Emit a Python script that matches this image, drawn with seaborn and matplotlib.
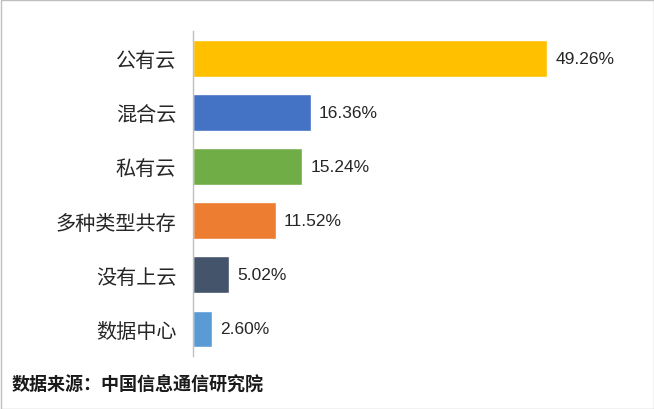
import matplotlib
matplotlib.use("Agg")
import matplotlib.pyplot as plt
import seaborn as sns
import pandas as pd
from matplotlib.patches import Rectangle

categories = ["公有云", "混合云", "私有云", "多种类型共存", "没有上云", "数据中心"]
values = [49.26, 16.36, 15.24, 11.52, 5.02, 2.60]
colors = ["#FFC000", "#4472C4", "#70AD47", "#ED7D31", "#44546A", "#5B9BD5"]
source = "数据来源：中国信息通信研究院"

sns.set_theme(style="white")
plt.rcParams['font.family'] = ['Noto Sans CJK SC', 'DejaVu Sans']

df = pd.DataFrame({"cat": categories, "val": values})

fig = plt.figure(figsize=(6.54, 4.10), dpi=100)
ax = fig.add_axes([193/654, 1-357/410, (624-193)/654, (357-32)/410])
sns.barplot(data=df, y="cat", x="val", hue="cat", palette=colors, legend=False,
            width=0.68, ax=ax, orient="h", saturation=1)
ax.set_xlim(0, 60)
ax.set_xlabel("")
ax.set_ylabel("")
ax.set_xticks([])
for s in ["top", "right", "bottom"]:
    ax.spines[s].set_visible(False)
ax.spines["left"].set_color("#BFBFBF")
ax.spines["left"].set_linewidth(1.0)
ax.tick_params(axis="y", length=0, pad=12, labelsize=14.5, labelcolor="#262626")

for cont in ax.containers:
    ax.bar_label(cont, labels=[f"{v:.2f}%" for v in cont.datavalues], padding=6,
                 fontsize=12.5, color="#262626",
                 family=["Liberation Sans Narrow", "Liberation Sans", "DejaVu Sans"])

fig.text(12/654, 1-385/410, source, fontsize=13, fontweight="bold", color="#1a1a1a",
         va="center", ha="left")

fig.patches.append(Rectangle((0.5/654, 0.5/410), 1-1/654, 1-1/410, transform=fig.transFigure,
                             fill=False, edgecolor="#BFBFBF", linewidth=1.0))

fig.savefig("out.png", dpi=100)
